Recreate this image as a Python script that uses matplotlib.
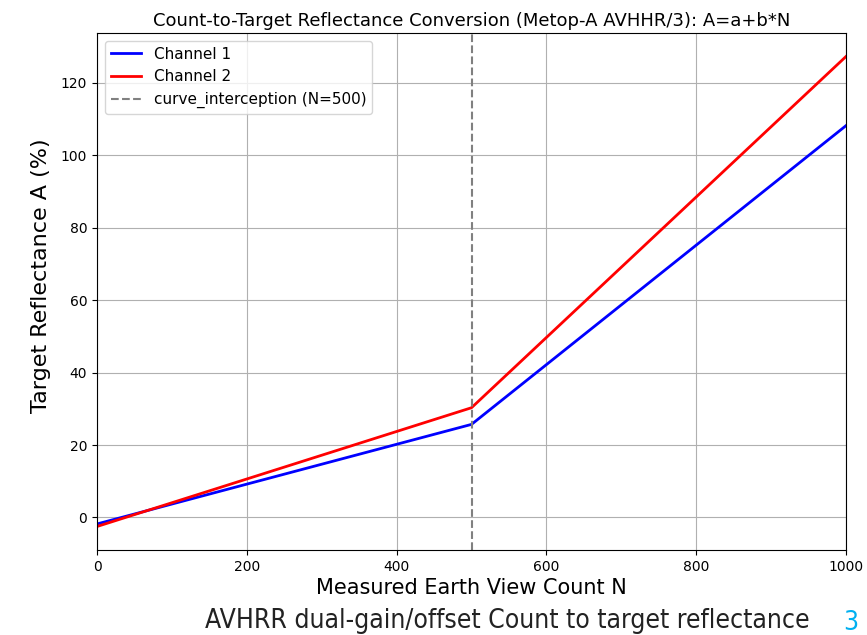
import matplotlib
matplotlib.use("Agg")
import matplotlib.pyplot as plt

counts = [0, 500, 1000]
ch1_refl = [-1.8, 25.7, 108.2]
ch2_refl = [-2.5, 30.3, 127.3]
intercept_N = 500

plt.rcParams['font.family'] = ['DejaVu Sans']

fig = plt.figure(figsize=(8.67, 6.35), dpi=100)
ax = fig.add_axes([97/867, 1-550/635, (846-97)/867, (550-33)/635])

ax.plot(counts, ch1_refl, color='blue', lw=2, label='Channel 1')
ax.plot(counts, ch2_refl, color='red', lw=2, label='Channel 2')
ax.axvline(intercept_N, color='gray', ls='--', lw=1.5, label=f'curve_interception (N={intercept_N})')
ax.set_xlim(0, 1000)
ax.grid(True)
ax.set_title('Count-to-Target Reflectance Conversion (Metop-A AVHHR/3): A=a+b*N', fontsize=13, pad=5)
ax.set_xlabel('Measured Earth View Count N', fontsize=15, labelpad=3)
ax.set_ylabel('Target Reflectance A (%)', fontsize=16)
ax.yaxis.set_label_coords(-0.062, 0.53)
ax.tick_params(labelsize=10)
ax.legend(loc='upper left', fontsize=11)

fig.text(205/867, 1-628/635, 'AVHRR dual-gain/offset Count to target reflectance',
         ha='left', va='baseline', fontsize=19, color='#222222',
         family='DejaVu Sans', stretch='condensed')
fig.text(843/867, 1-610/635, '3', ha='left', va='top', fontsize=19, color='#00B0F0',
         family='DejaVu Sans', stretch='condensed')

fig.savefig('out.png', dpi=100)
